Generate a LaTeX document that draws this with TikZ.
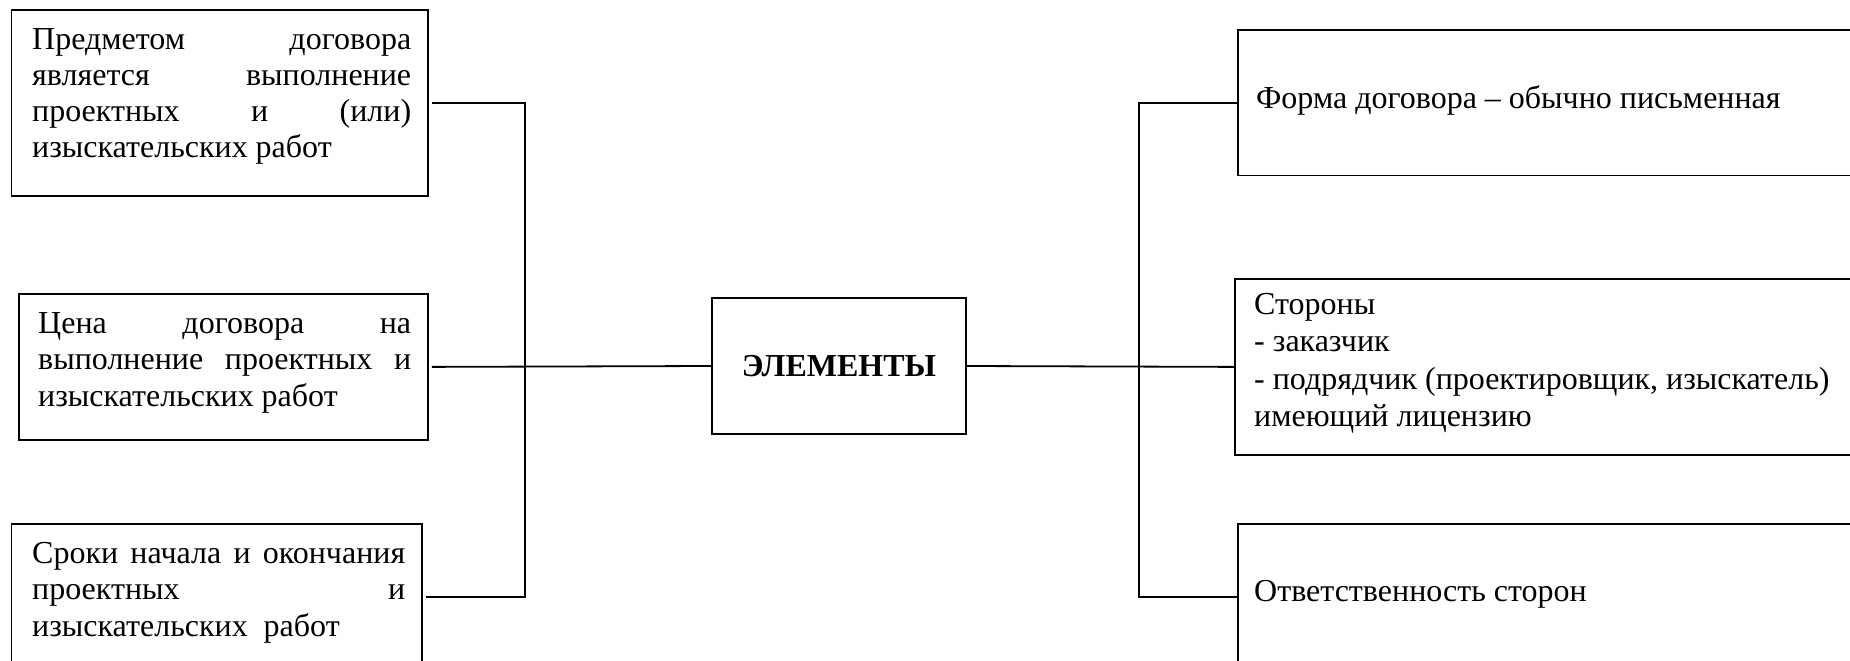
\documentclass[tikz,border=0pt]{standalone}
\usepackage{fontspec}
\setmainfont{Liberation Serif}
\newcommand{\jl}[1]{\makebox[\linewidth][s]{#1}}
\tikzset{
  every node/.style={font=\fontsize{32}{36.8}\selectfont},
  box/.style={draw, line width=1.8pt, inner sep=0pt, anchor=north west},
  cbox/.style={draw, line width=1.8pt, inner sep=0pt, anchor=center},
  txt/.style={anchor=base west, inner sep=0pt},
  conn/.style={line width=1.8pt},
}
\begin{document}
\begin{tikzpicture}[x=1pt,y=-1pt]
\useasboundingbox (0,0) rectangle (1850,661);
\clip (0,0) rectangle (1850,661);
% left boxes
\node[box, minimum width=416.4pt, minimum height=186pt] (b1) at (10.6,9.4) {};
\node[box, minimum width=409.3pt, minimum height=146pt] (b2) at (17.7,293) {};
\node[box, minimum width=410.4pt, minimum height=146pt] (b3) at (10.6,523) {};
% centre
\node[cbox, minimum width=254pt, minimum height=136pt] (c) at (839,366) {\bfseries ЭЛЕМЕНТЫ};
% right boxes
\node[box, minimum width=640pt, minimum height=145pt] (r1) at (1237,29.5) {};
\node[box, minimum width=640pt, minimum height=176pt] (r2) at (1234,278) {};
\node[box, minimum width=640pt, minimum height=146pt] (r3) at (1237,523) {};
% texts
\node[txt, font=\fontsize{32}{35.8}\selectfont] (t1) at (32,50) {\parbox[t]{379pt}{\jl{Предметом договора}\\\jl{является выполнение}\\\jl{проектных и (или)}\\изыскательских работ}};
\node[txt] (t2) at (38,333) {\parbox[t]{373pt}{\jl{Цена договора на}\\\jl{выполнение проектных и}\\изыскательских работ}};
\node[txt] (t3) at (32,563) {\parbox[t]{373pt}{\jl{Сроки начала и окончания}\\\jl{проектных и}\\изыскательских\ \ работ}};
\node[txt] (u1) at (1256,108) {Форма договора – обычно письменная};
\node[txt, font=\fontsize{32}{37.5}\selectfont] (u2) at (1254,314) {\parbox[t]{590pt}{Стороны\\- заказчик\\- подрядчик (проектировщик, изыскатель)\\имеющий лицензию}};
\node[txt] (u3) at (1254,601) {Ответственность сторон};
% connectors
\coordinate (lb) at (525,366);
\coordinate (rb) at (1139,366);
\draw[conn, shorten <=3pt] (b1.east) -| (lb);
\draw[conn, shorten <=3pt] (b3.east) -| (lb);
\draw[conn, shorten <=3pt] (b2.east) -- (c.west);
\draw[conn] (c.east) -- (r2.west);
\draw[conn] (r1.west) -| (rb);
\draw[conn] (r3.west) -| (rb);
\end{tikzpicture}
\end{document}
